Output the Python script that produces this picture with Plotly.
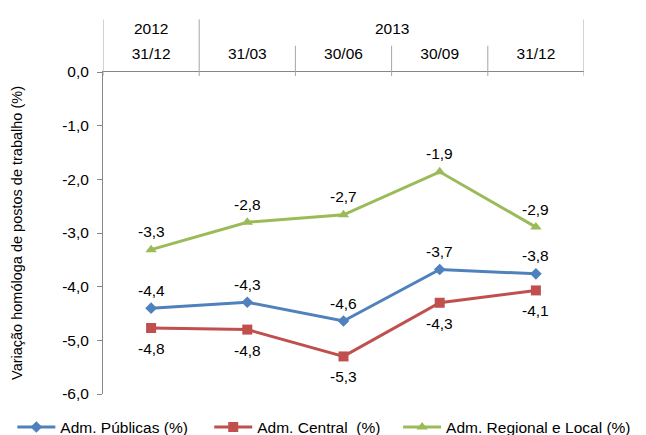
import plotly.graph_objects as go

years = ["2012", "2013"]
year_spans = [(0, 0), (1, 4)]
dates = ["31/12", "31/03", "30/06", "30/09", "31/12"]
adm_publicas = [-4.40, -4.29, -4.64, -3.68, -3.76]
adm_central = [-4.77, -4.80, -5.30, -4.30, -4.07]
adm_regional = [-3.31, -2.80, -2.66, -1.86, -2.89]
y_ticks = [0, -1, -2, -3, -4, -5, -6]


def fmt(v):
    return f"{v:.1f}".replace(".", ",")


xs = list(range(len(dates)))
font = "Liberation Sans, Arial, sans-serif"
axis_col = "#868686"
div_col = "#A6A6A6"
FS = 15.5

L, R, T, B = 102.7, 62, 72, 40.5
H = 435 - T - B
W = 646 - L - R
IW = 38  # legend symbol width
legend_text_px = [62, 259, 448]

fig = go.Figure()
series = [
    ("Adm. Públicas (%)", adm_publicas, "#4F81BD", "diamond", 9, "top"),
    ("Adm. Central  (%)", adm_central, "#C0504D", "square", 10, "bottom"),
    ("Adm. Regional e Local (%)", adm_regional, "#9BBB59", "triangle-up", 10, "top"),
]
annotations = []
legend_ids = ["legend", "legend2", "legend3"]
for (name, vals, col, sym, size, pos), lid in zip(series, legend_ids):
    fig.add_trace(go.Scatter(
        x=xs, y=vals, name=name, mode="lines+markers", legend=lid,
        line=dict(color=col, width=3), marker=dict(symbol=sym, size=size, color=col),
        cliponaxis=False))
    for xi, v in zip(xs, vals):
        annotations.append(dict(x=xi, y=v, xref="x", yref="y", text=fmt(v), showarrow=False,
                                font=dict(size=FS, color="#000"), xanchor="center",
                                yanchor="middle", yshift=18 if pos == "top" else -20.5))

# header dividers
shapes = []
n = len(dates)
outer_bounds = sorted({a - 0.5 for a, b in year_spans} | {b + 0.5 for a, b in year_spans})
for i in range(n + 1):
    b = i - 0.5
    top = 1 + ((T - 19.3) / H if b in outer_bounds else (T - 45.7) / H)
    shapes.append(dict(type="line", xref="x", yref="paper", x0=b, x1=b,
                       y0=1 - 4 / H, y1=top, line=dict(color=div_col, width=1)))

for yr, (a, b) in zip(years, year_spans):
    annotations.append(dict(x=(a + b) / 2, y=1 + (T - 28) / H, xref="x", yref="paper",
                            text=yr, showarrow=False, font=dict(size=FS, color="#000"),
                            xanchor="center", yanchor="middle"))

legend_layout = {}
for lid, tx in zip(legend_ids, legend_text_px):
    legend_layout[lid] = dict(orientation="h", x=(tx - (IW + 12) - L) / W, xanchor="left",
                              y=-(428 - (T + H)) / H, yanchor="middle",
                              itemwidth=IW, font=dict(size=15.5),
                              bgcolor="rgba(0,0,0,0)")

fig.update_layout(
    width=646, height=435,
    margin=dict(l=L, r=R, t=T, b=B, autoexpand=False),
    paper_bgcolor="white", plot_bgcolor="white",
    font=dict(family=font, size=FS, color="#000"),
    showlegend=True,
    shapes=shapes, annotations=annotations,
    **legend_layout,
)
fig.update_xaxes(
    side="top", range=[-0.5, n - 0.5], tickvals=xs, ticktext=dates,
    showline=True, linecolor=axis_col, linewidth=1,
    ticks="", showgrid=False, zeroline=False, ticklabelstandoff=6,
    tickfont=dict(size=FS, color="#000"), fixedrange=True,
)
fig.update_yaxes(
    range=[-6, 0], tickvals=y_ticks, ticktext=[fmt(v) for v in y_ticks],
    showline=True, linecolor=axis_col, linewidth=1,
    ticks="outside", ticklen=5, tickcolor=axis_col, ticklabelstandoff=5,
    showgrid=False, zeroline=False, fixedrange=True,
    tickfont=dict(size=FS, color="#000"),
    title=dict(text="Variação homóloga de postos de trabalho (%)", font=dict(size=14.5), standoff=36),
)

fig.write_html("out.html", config={"displayModeBar": False},
               post_script="document.body.style.margin='0';document.body.style.overflow='hidden';")
